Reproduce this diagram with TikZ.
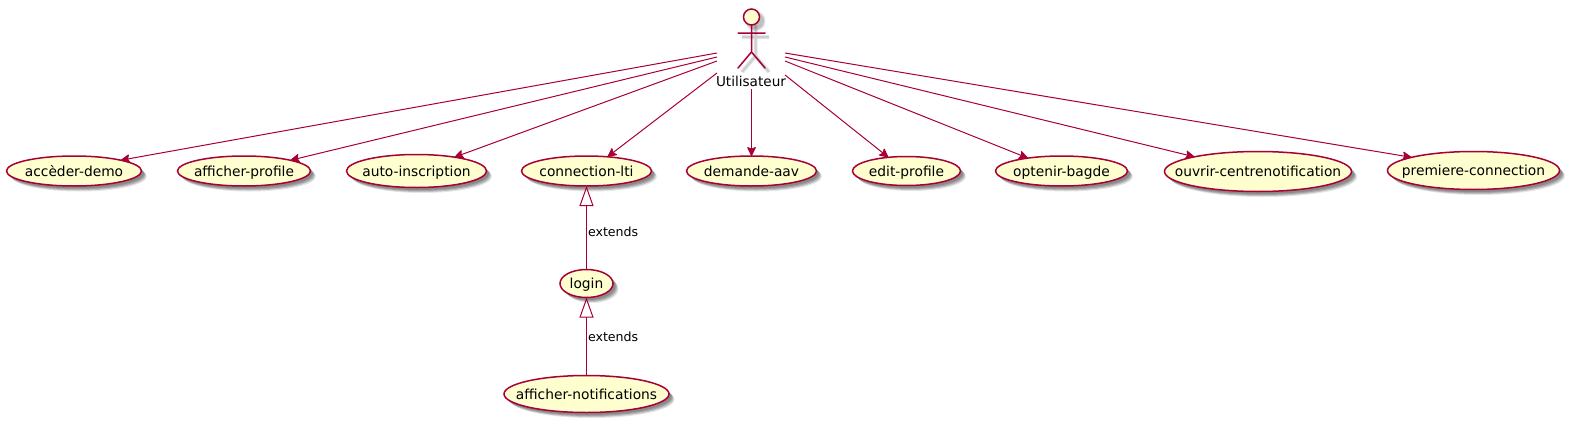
\documentclass[tikz,border=0pt]{standalone}
\usepackage{fontspec}
\setmainfont{DejaVu Sans}
\usetikzlibrary{shapes.geometric,arrows.meta,shadows}
\definecolor{umlline}{HTML}{A80036}
\definecolor{umlfill}{HTML}{FEFECE}
\tikzset{
  softshadow/.style={
    general shadow={shadow xshift=2.5pt,shadow yshift=-2.5pt,fill=black,fill opacity=.14,draw=none},
    general shadow={shadow xshift=3.5pt,shadow yshift=-3.5pt,fill=black,fill opacity=.16,draw=none},
    general shadow={shadow xshift=4.5pt,shadow yshift=-4.5pt,fill=black,fill opacity=.16,draw=none},
    general shadow={shadow xshift=5.5pt,shadow yshift=-5.5pt,fill=black,fill opacity=.10,draw=none}},
  usecase/.style={ellipse,draw=umlline,fill=umlfill,line width=1.5pt,inner xsep=-30pt,inner ysep=-10pt,outer sep=0pt,
    text=black,font=\fontsize{13.8}{16}\selectfont,text height=10pt,text depth=0pt,softshadow},
  assoc/.style={draw=umlline,line width=1pt,-{Stealth[inset=2pt,length=10pt,width=9.5pt,round]}},
  ext/.style={draw=umlline,line width=1pt,-{Triangle[open,fill=white,length=20pt,width=14pt]}},
  extlabel/.style={text=black,font=\fontsize{12.6}{15}\selectfont,inner sep=0pt,anchor=west},
  actorline/.style={draw=umlline,line width=1.5pt,line cap=round},
  actorshadow/.style={draw=black,draw opacity=.10,line width=4pt},
  actorshadowb/.style={draw=black,draw opacity=.10,line width=2pt},
}
\begin{document}
\begin{tikzpicture}[x=1pt,y=-1pt]
\useasboundingbox (0,0) rectangle (1569,423);
% actor shadow
\draw[actorshadow] (755.5,25)--(755.5,56)--(742,72) (755.5,56)--(769,72) (742,37)--(769,37);
\draw[actorshadowb] (755.5,25)--(755.5,56)--(742,72) (755.5,56)--(769,72) (742,37)--(769,37);
\fill[black,fill opacity=.12] (755.5,21) circle (10pt);
\fill[black,fill opacity=.15] (755.5,21) circle (8.5pt);
% actor
\node[circle,draw=umlline,fill=umlfill,line width=1.5pt,minimum size=16pt,inner sep=0pt,outer sep=0pt] (head) at (751.5,17) {};
\coordinate (arml) at (738,33);
\coordinate (armr) at (765,33);
\coordinate (hip) at (751.5,52);
\coordinate (legl) at (738,68);
\coordinate (legr) at (765,68);
\draw[actorline] (head.south) -- (hip) (arml) -- (armr) (hip) -- (legl) (hip) -- (legr);
\node[text=black,font=\fontsize{13.6}{16}\selectfont,inner sep=0pt,text height=10pt,text depth=0pt] (actor) at (751,81.5) {Utilisateur};
% use cases
\node[usecase,minimum width=135pt,minimum height=30pt] (acc) at (74,171) {accèder-demo};
\node[usecase,minimum width=133pt,minimum height=30pt] (aff) at (244,171) {afficher-profile};
\node[usecase,minimum width=140pt,minimum height=33pt] (aut) at (416.5,171) {auto-inscription};
\node[usecase,minimum width=130pt,minimum height=30pt] (lti) at (586.5,171) {connection-lti};
\node[usecase,minimum width=130pt,minimum height=30pt] (dem) at (751.5,171) {demande-aav};
\node[usecase,minimum width=108pt,minimum height=29pt] (edi) at (906.5,171) {edit-profile};
\node[usecase,minimum width=132pt,minimum height=30pt] (opt) at (1061.5,171) {optenir-bagde};
\node[usecase,minimum width=187pt,minimum height=40pt] (ouv) at (1258,171.5) {ouvrir-centrenotification};
\node[usecase,minimum width=172pt,minimum height=38pt] (pre) at (1473.5,170.5) {premiere-connection};
\node[usecase,minimum width=53pt,minimum height=28pt] (log) at (586.5,283.5) {login};
\node[usecase,minimum width=165pt,minimum height=37pt] (not) at (586.5,394) {afficher-notifications};
% connector starts
\coordinate (s1) at (717,53);
\coordinate (s2) at (717,57);
\coordinate (s3) at (717,61);
\coordinate (s4) at (717,73);
\coordinate (s5) at (751.5,89);
\coordinate (s6) at (785,75);
\coordinate (s7) at (785,61);
\coordinate (s8) at (785,57);
\coordinate (s9) at (785,53);
\draw[assoc] (s1) -- (acc.13.5);
\draw[assoc] (s2) -- (aff.13.2);
\draw[assoc] (s3) -- (aut.20.2);
\draw[assoc] (s4) -- (lti.34);
\draw[assoc] (s5) -- (dem.north);
\draw[assoc] (s6) -- (edi.143.7);
\draw[assoc] (s7) -- (opt.159.6);
\draw[assoc] (s8) -- (ouv.167);
\draw[assoc] (s9) -- (pre.168.6);
\draw[ext] (log) -- node[extlabel,pos=.45,xshift=1pt] {extends} (lti);
\draw[ext] (not) -- node[extlabel,pos=.5,xshift=1pt] {extends} (log);
\end{tikzpicture}
\end{document}
